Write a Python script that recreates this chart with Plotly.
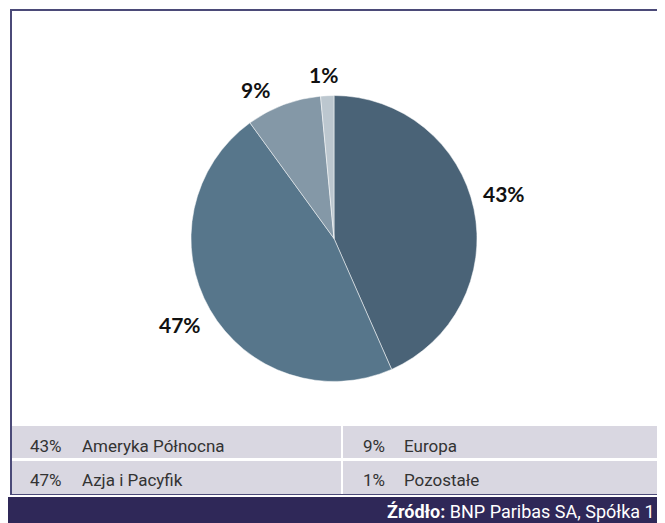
import plotly.graph_objects as go

# ── Data ───────────────────────────────────────────────────────────────────────
regions = ["Ameryka Północna", "Azja i Pacyfik", "Europa", "Pozostałe"]
shares = [43.4, 46.6, 8.5, 1.5]
share_labels = ["43%", "47%", "9%", "1%"]
slice_colors = ["#4a6377", "#57768b", "#8498a7", "#bcc7cf"]

# ── Layout constants (figure pixels, origin top-left) ─────────────────────────
W, H = 665, 523
FRAME = "#4b4a78"
ROW_BG = "#d9d7e1"
FOOT_BG = "#2f2858"
TXT_FONT = "Roboto, sans-serif"
LBL_FONT = "Lato, Open Sans, sans-serif"

# where each slice's percentage label sits (centre, px)
label_pos = [(496, 186), (172, 316), (247, 82), (315, 67)]


def px(x):
    return x / W


def py(y):
    return 1 - y / H


fig = go.Figure()

fig.add_trace(go.Pie(
    labels=regions,
    values=shares,
    textinfo="none",
    sort=False,
    direction="clockwise",
    rotation=0,
    marker=dict(colors=slice_colors, line=dict(color="#ffffff", width=0.5)),
    domain=dict(x=[px(183), px(469)], y=[py(374), py(87)]),
    showlegend=False,
    hoverinfo="label+percent",
))

shapes = [
    # outer frame (left edge runs down past the table)
    dict(type="rect", xref="paper", yref="paper", x0=px(3), x1=px(W + 10), y0=py(486), y1=py(2),
         line=dict(color=FRAME, width=2), fillcolor="rgba(0,0,0,0)", layer="below"),
    # legend table rows
    dict(type="rect", xref="paper", yref="paper", x0=px(4), x1=1, y0=py(450), y1=py(418),
         line=dict(width=0), fillcolor=ROW_BG),
    dict(type="rect", xref="paper", yref="paper", x0=px(4), x1=1, y0=py(486), y1=py(453),
         line=dict(width=0), fillcolor=ROW_BG),
    # divider between the two legend columns
    dict(type="line", xref="paper", yref="paper", x0=px(334), x1=px(334), y0=py(486), y1=py(418),
         line=dict(color="#ffffff", width=2)),
    # footer
    dict(type="rect", xref="paper", yref="paper", x0=0, x1=1, y0=0, y1=py(489),
         line=dict(width=0), fillcolor=FOOT_BG),
]

annotations = []

# pie percentage labels
for lab, (x, y) in zip(share_labels, label_pos):
    annotations.append(dict(
        x=px(x), y=py(y), xref="paper", yref="paper",
        text=lab, showarrow=False, xanchor="center", yanchor="middle",
        font=dict(family=LBL_FONT, size=21, color="#111111", weight="bold"),
    ))

# legend table text: (row, col) per region
cells = [(0, 0), (1, 0), (0, 1), (1, 1)]
row_y = [438, 472]
col_pct_x = [20, 353]
col_name_x = [72, 394]
for (r, c), name, lab in zip(cells, regions, share_labels):
    for x, txt in ((col_pct_x[c], lab), (col_name_x[c], name)):
        annotations.append(dict(
            x=px(x), y=py(row_y[r]), xref="paper", yref="paper",
            text=txt, showarrow=False, xanchor="left", yanchor="middle",
            font=dict(family=TXT_FONT, size=17, color="#333333"),
        ))

annotations.append(dict(
    x=px(649), y=py(503), xref="paper", yref="paper",
    text="<b>Źródło:</b> BNP Paribas SA, Spółka 1",
    showarrow=False, xanchor="right", yanchor="middle",
    font=dict(family=TXT_FONT, size=18, color="#ffffff"),
))

fig.update_layout(
    width=W, height=H,
    margin=dict(l=0, r=0, t=0, b=0),
    paper_bgcolor="#ffffff",
    plot_bgcolor="#ffffff",
    shapes=shapes,
    annotations=annotations,
)

fig.write_html("out.html")
